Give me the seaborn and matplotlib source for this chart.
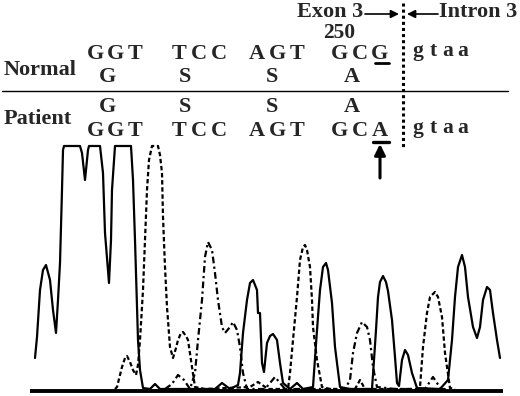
import matplotlib
matplotlib.use("Agg")
import matplotlib.pyplot as plt
import seaborn as sns

# chromatogram traces (scan position, signal intensity)
solid_x = [35, 37, 40, 43, 46, 50, 53, 56, 58, 60, 62, 63, 64, 80, 82, 85, 88, 89, 100, 103, 105, 109,
           111, 112, 115, 131, 133, 135, 138, 140, 143, 150, 155, 160, 215, 222, 230, 238, 240, 243, 247,
           250, 253, 257, 258, 260, 262, 264, 267, 270, 273, 277, 280, 283, 290, 297, 303, 313, 317, 320,
           323, 326, 328, 332, 335, 340, 350, 372, 374, 376, 378, 380, 383, 386, 388, 392, 395, 397, 399,
           402, 405, 408, 412, 417, 440, 448, 452, 455, 458, 462, 465, 468, 473, 477, 480, 483, 487, 490,
           493, 497, 500]
solid_y = [33, 54, 101, 121, 126, 111, 81, 58, 91, 128, 201, 241, 245, 245, 238, 211, 241, 245, 245, 218,
           158, 108, 151, 201, 245, 245, 211, 151, 51, 21, 3, 2, 7, 2, 2, 8, 2, 6, 18, 58, 91,
           108, 111, 101, 78, 78, 28, 19, 48, 55, 57, 51, 28, 8, 2, 8, 2, 4, 61, 101,
           124, 128, 121, 88, 44, 4, 2, 2, 31, 61, 94, 109, 115, 109, 100, 71, 34, 8, 5,
           31, 41, 36, 18, 3, 2, 11, 51, 94, 124, 136, 124, 94, 64, 53, 64, 91, 104, 101,
           78, 51, 33]

dash_x = [115, 117, 122, 125, 127, 130, 133, 136, 138, 140, 143, 145, 147, 149, 152, 158, 160, 162, 163,
          165, 167, 170, 173, 176, 178, 181, 183, 186, 188, 192, 195, 205, 250, 258, 268, 288, 290, 293,
          297, 300, 303, 305, 307, 310, 312, 313, 317, 322, 330, 355, 360, 365, 418, 420, 423, 427, 430,
          435, 438, 442, 445, 450, 455]
dash_y = [2, 4, 24, 33, 35, 29, 21, 16, 26, 51, 101, 151, 201, 231, 245, 245, 236, 218, 174,
          124, 84, 44, 33, 43, 51, 58, 59, 55, 51, 24, 4, 2, 4, 9, 2, 2, 18, 51,
          94, 131, 144, 146, 141, 124, 91, 64, 31, 4, 2, 2, 11, 2, 2, 4, 44, 78, 94,
          99, 94, 74, 38, 3, 2]

dashdot_x = [165, 172, 178, 184, 190, 195, 198, 202, 205, 208, 212, 215, 218, 222, 225, 230, 233, 237,
             240, 243, 247, 265, 275, 285, 345, 350, 353, 357, 362, 367, 370, 373, 377, 395, 425, 433,
             441, 450]
dashdot_y = [2, 7, 16, 11, 2, 18, 51, 91, 134, 149, 141, 118, 91, 64, 58, 64, 69, 61,
             44, 18, 2, 2, 14, 2, 2, 11, 38, 58, 69, 64, 51, 24, 4, 2, 2, 14,
             2, 2]

# sequence text
normal_codons = ["GGT", "TCC", "AGT", "GCG"]
patient_codons = ["GGT", "TCC", "AGT", "GCA"]
amino_acids = ["G", "S", "S", "A"]
intron_seq = "gtaa"
codon_x = [115, 199, 277, 360]
aa_x = [107, 185, 272, 352]

sns.set_theme(style="white")
plt.rcParams["font.family"] = ["Liberation Serif", "DejaVu Serif"]
plt.rcParams["font.weight"] = "bold"

fig = plt.figure(figsize=(5.2, 3.96), dpi=100)
ax = fig.add_axes([0, 0, 1, 1])
ax.set_xlim(0, 520)
ax.set_ylim(-5, 391)
ax.axis("off")

sns.lineplot(x=solid_x, y=solid_y, ax=ax, sort=False, estimator=None, color="black", lw=1.6)
sns.lineplot(x=dash_x, y=dash_y, ax=ax, sort=False, estimator=None, color="black", lw=1.6,
             linestyle=(0, (2, 1.2)))
sns.lineplot(x=dashdot_x, y=dashdot_y, ax=ax, sort=False, estimator=None, color="black", lw=1.6,
             linestyle=(0, (3, 1.5, 1, 1.5)))
ax.hlines(0, 30, 503, color="black", lw=2.8)

# annotation layer in pixel coordinates
an = fig.add_axes([0, 0, 1, 1])
an.set_xlim(0, 520)
an.set_ylim(396, 0)
an.axis("off")
an.patch.set_alpha(0)

fs = 16
an.text(40, 70, "Normal", ha="center", va="center", fontsize=fs, fontweight="bold")
an.text(38, 119, "Patient", ha="center", va="center", fontsize=fs, fontweight="bold")

for cx, nc, pc in zip(codon_x, normal_codons, patient_codons):
    for k in range(3):
        an.text(cx + (k - 1) * 20, 54, nc[k], ha="center", va="center", fontsize=fs, fontweight="bold")
        an.text(cx + (k - 1) * 20, 131, pc[k], ha="center", va="center", fontsize=fs, fontweight="bold")
for ax_, aa in zip(aa_x, amino_acids):
    an.text(ax_, 77, aa, ha="center", va="center", fontsize=fs, fontweight="bold")
    an.text(ax_, 107, aa, ha="center", va="center", fontsize=fs, fontweight="bold")

for k, ch in enumerate(intron_seq):
    an.text(418 + k * 15, 51, ch, ha="center", va="center", fontsize=fs - 0.5, fontweight="bold")
    an.text(418 + k * 15, 128, ch, ha="center", va="center", fontsize=fs - 0.5, fontweight="bold")

an.text(330, 12, "Exon 3", ha="center", va="center", fontsize=fs, fontweight="bold")
an.text(339, 33, "250", ha="center", va="center", fontsize=fs - 0.5, fontweight="bold")
an.text(478, 12, "Intron 3", ha="center", va="center", fontsize=fs, fontweight="bold")

arrow = dict(arrowstyle="-|>", color="black", lw=1.2, mutation_scale=12, shrinkA=0, shrinkB=0)
an.annotate("", xy=(399, 14), xytext=(365, 14), arrowprops=arrow)
an.annotate("", xy=(407, 14), xytext=(438, 14), arrowprops=arrow)
an.annotate("", xy=(380, 144), xytext=(380, 178),
            arrowprops=dict(arrowstyle="-|>", color="black", lw=2.2, mutation_scale=16, shrinkA=0, shrinkB=0))

an.plot([403, 403], [3, 148], color="black", lw=2.2, linestyle=(0, (1, 1)))
an.plot([2, 508], [91, 91], color="black", lw=1.0)
an.plot([375, 389], [63, 63], color="black", lw=2.0)
an.plot([373, 389], [142, 142], color="black", lw=2.4)

fig.savefig("out.png", dpi=100, facecolor="white")
